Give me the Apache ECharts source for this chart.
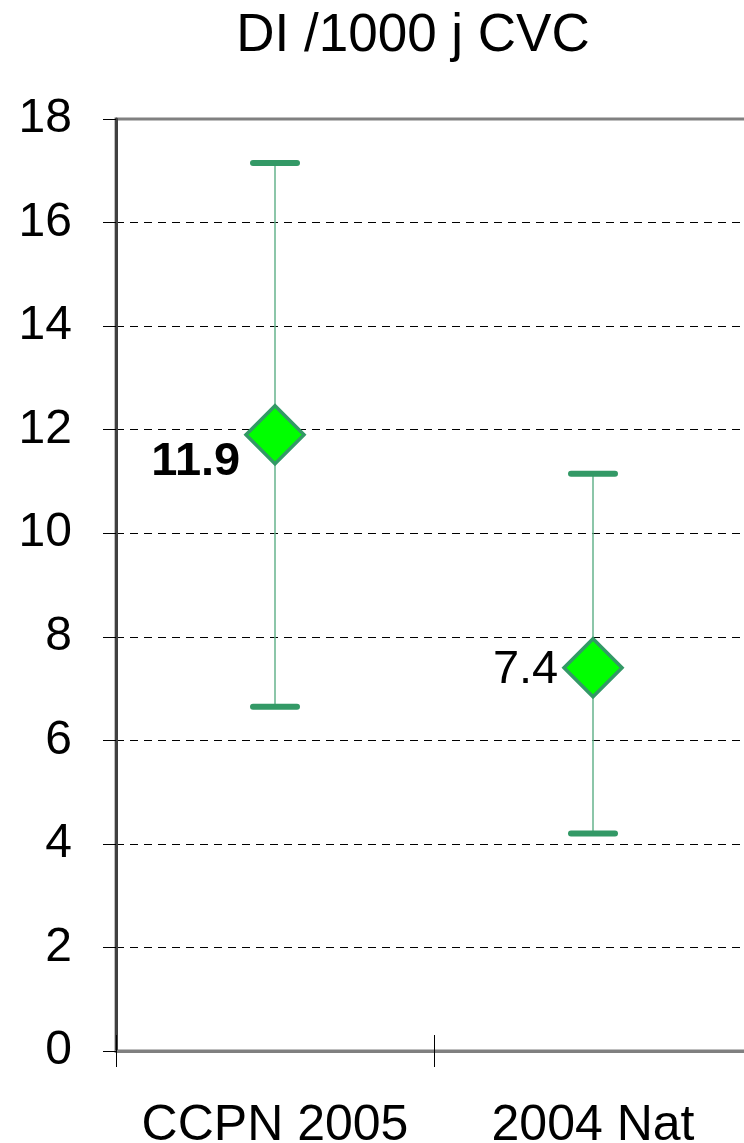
<!DOCTYPE html>
<html>
<head>
<meta charset="utf-8">
<script src="https://cdn.jsdelivr.net/npm/echarts@6/dist/echarts.min.js"></script>
<style>
  html, body { margin: 0; padding: 0; background: #fff; }
  #chart { width: 744px; height: 1143px; }
</style>
</head>
<body>
<div id="chart"></div>
<script>
var categories = ['CCPN 2005', '2004 Nat'];
var means = [11.9, 7.4];
var lows = [6.65, 4.2];
var highs = [17.15, 11.15];
var yTicks = { min: 0, max: 18, step: 2 };

var chart = echarts.init(document.getElementById('chart'));
var font = "'Liberation Sans', Arial, sans-serif";
var green = '#339966';

// label style differs per point (first one bold, shifted down)
var labelStyles = [
    { fontWeight: 'bold', offset: [0, 27] },
    { fontWeight: 'normal', offset: [0, 2] }
];

chart.setOption({
    animation: false,
    title: {
        text: 'DI /1000 j CVC',
        left: 408,
        textAlign: 'center',
        top: 5,
        textStyle: { fontFamily: font, fontSize: 53, fontWeight: 'normal', color: '#000' }
    },
    grid: {
        left: 116,
        top: 119,
        width: 636,
        height: 932,
        outerBoundsMode: 'none',
        containLabel: false,
        show: true,
        borderColor: '#808080',
        borderWidth: 3
    },
    xAxis: [{
        type: 'category',
        data: categories,
        boundaryGap: true,
        axisLine: { lineStyle: { color: '#808080', width: 3 } },
        axisTick: { show: true, interval: 0, length: 16, lineStyle: { color: '#000', width: 1 } },
        axisLabel: { fontFamily: font, fontSize: 50, color: '#000', margin: 50, interval: 0, hideOverlap: false },
        splitLine: { show: false }
    }, {
        // inner half of the crossing ticks
        type: 'category',
        data: categories,
        position: 'bottom',
        boundaryGap: true,
        axisLine: { show: false },
        axisTick: { show: true, interval: 0, inside: true, length: 16, lineStyle: { color: '#000', width: 1 } },
        axisLabel: { show: false },
        splitLine: { show: false }
    }],
    yAxis: {
        type: 'value',
        min: yTicks.min,
        max: yTicks.max,
        interval: yTicks.step,
        axisLine: { show: true, lineStyle: { color: '#404040', width: 3 } },
        axisTick: { show: true, length: 13, lineStyle: { color: '#000', width: 1 } },
        axisLabel: { fontFamily: font, fontSize: 48, color: '#000', margin: 44 },
        splitLine: {
            show: true,
            showMinLine: false,
            showMaxLine: false,
            lineStyle: { color: '#000', width: 1, type: [8, 6] }
        }
    },
    series: [{
        type: 'custom',
        data: categories.map(function(c, i) { return [i, lows[i], highs[i]]; }),
        renderItem: function(params, api) {
            var x = api.value(0);
            var lo = api.coord([x, api.value(1)]);
            var hi = api.coord([x, api.value(2)]);
            var half = 22;
            return {
                type: 'group',
                children: [{
                    type: 'line',
                    shape: { x1: lo[0], y1: lo[1], x2: hi[0], y2: hi[1] },
                    style: { stroke: '#66b38c', lineWidth: 1.5 }
                }, {
                    type: 'line',
                    shape: { x1: hi[0] - half, y1: hi[1], x2: hi[0] + half, y2: hi[1] },
                    style: { stroke: green, lineWidth: 6, lineCap: 'round' }
                }, {
                    type: 'line',
                    shape: { x1: lo[0] - half, y1: lo[1], x2: lo[0] + half, y2: lo[1] },
                    style: { stroke: green, lineWidth: 6, lineCap: 'round' }
                }]
            };
        },
        z: 2
    }, {
        type: 'scatter',
        symbol: 'diamond',
        symbolSize: 58,
        itemStyle: { color: '#00ff00', borderColor: green, borderWidth: 3.5, opacity: 1 },
        data: means.map(function(v, i) {
            return {
                value: [i, v],
                label: {
                    show: true,
                    position: 'left',
                    distance: 4,
                    formatter: String(v),
                    fontFamily: font,
                    fontSize: 47,
                    color: '#000',
                    fontWeight: labelStyles[i].fontWeight,
                    offset: labelStyles[i].offset
                }
            };
        }),
        z: 3
    }]
});
</script>
</body>
</html>
